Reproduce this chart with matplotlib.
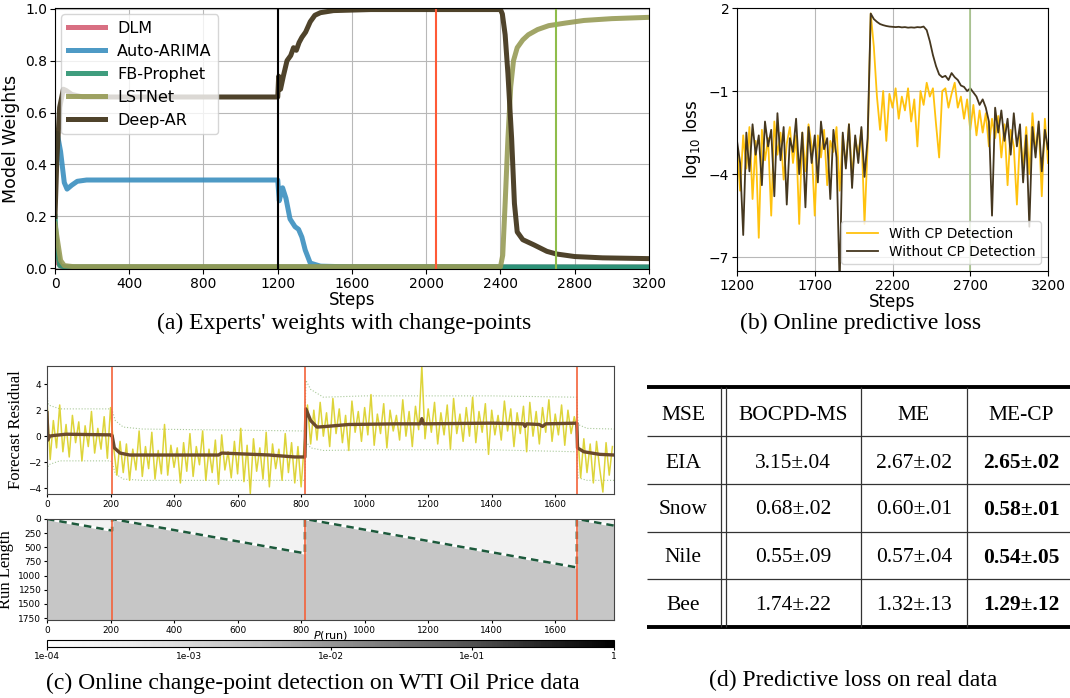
import numpy as np
import matplotlib
matplotlib.use('Agg')
import matplotlib.pyplot as plt
from matplotlib.colors import LogNorm
from matplotlib.cm import ScalarMappable

# ---------------- (a) experts' weights ----------------
dlm_x = [0, 15, 40, 3200]
dlm_w = [0.1, 0.02, 0.004, 0.004]
arima_x = [0, 12, 30, 50, 65, 90, 120, 170, 1200, 1208, 1226, 1244, 1266, 1293, 1312,
           1330, 1348, 1375, 1430, 1600, 3200]
arima_w = [0.4, 0.52, 0.45, 0.33, 0.305, 0.32, 0.335, 0.34, 0.34, 0.26, 0.31, 0.27, 0.19, 0.16, 0.15,
           0.12, 0.07, 0.02, 0.008, 0.005, 0.003]
prophet_x = [0, 10, 25, 50, 3200]
prophet_w = [0.2, 0.08, 0.01, 0.005, 0.005]
lstnet_x = [0, 15, 30, 50, 100, 2400, 2412, 2425, 2440, 2455, 2470, 2490, 2520, 2550, 2600,
            2660, 2750, 2850, 3000, 3200]
lstnet_w = [0.17, 0.1, 0.03, 0.01, 0.006, 0.006, 0.05, 0.25, 0.5, 0.7, 0.8, 0.85, 0.88, 0.9, 0.92,
            0.935, 0.945, 0.955, 0.962, 0.967]
deepar_x = [0, 10, 25, 45, 60, 90, 150, 1200, 1205, 1215, 1230, 1250, 1270, 1285, 1300, 1315,
            1330, 1350, 1375, 1400, 1430, 1500, 1700, 2400, 2410, 2425, 2440, 2460, 2475, 2490,
            2520, 2580, 2650, 2700, 2800, 2950, 3200]
deepar_w = [0.2, 0.42, 0.62, 0.69, 0.685, 0.67, 0.66, 0.66, 0.74, 0.69, 0.74, 0.80, 0.82, 0.85, 0.84, 0.87,
            0.89, 0.91, 0.95, 0.975, 0.985, 0.993, 0.997, 0.997, 0.98, 0.9, 0.75, 0.5, 0.25, 0.14,
            0.11, 0.09, 0.065, 0.055, 0.045, 0.04, 0.037]
a_cps = [1200, 2050, 2700]
a_cp_colors = ['black', '#ff5a36', '#8fbd4b']

# ---------------- (b) online predictive loss ----------------
b_steps = np.arange(1200, 3201, 20)
loss_with_cp = [
    -3.0, -4.6, -2.6, -3.8, -2.3, -4.9, -2.8, -6.3, -2.4, -3.5,
    -2.7, -5.5, -2.1, -3.3, -2.5, -4.2, -2.9, -2.3, -3.6, -2.6,
    -5.8, -2.5, -3.9, -2.2, -3.0, -5.5, -2.6, -3.4, -2.4, -4.4,
    -2.8, -3.2, -2.3, -4.6, -2.6, -3.7, -2.2, -4.1, -2.7, -3.3,
    -2.4, -5.8, -3.0,
    1.8, 0.6, -1.2, -2.4, -1.0, -2.8, -1.1, -1.6, -0.9, -2.0,
    -1.2, -1.7, -0.9, -2.1, -1.3, -3.0, -1.0, -1.5, -0.7, -1.2,
    -0.9, -2.2, -3.4, -1.0, -0.9, -1.6, -1.1, -0.7, -1.6, -1.2,
    -2.0, -1.3, -2.4, -1.5, -2.6, -1.7, -2.5, -1.8, -3.0, -2.0,
    -2.7, -1.9, -3.4, -2.2, -4.4, -2.4, -3.0, -5.1, -2.6, -3.7,
    -2.3, -4.0, -1.8, -3.2, -2.2, -4.8, -2.0, -3.6]
loss_without_cp = [
    -2.8, -3.6, -6.2, -2.5, -3.9, -2.2, -3.3, -2.6, -4.4, -2.1,
    -3.0, -2.4, -4.8, -1.8, -3.5, -2.3, -5.1, -2.7, -3.2, -2.0,
    -4.0, -2.5, -5.2, -2.3, -3.6, -2.6, -4.3, -2.1, -3.1, -2.7,
    -4.9, -2.4, -3.4, -8.0, -2.5, -3.8, -2.2, -4.5, -2.6, -3.6,
    -2.3, -4.1, -2.7,
    1.8, 1.6, 1.5, 1.42, 1.38, 1.35, 1.33, 1.32, 1.31, 1.32,
    1.3, 1.31, 1.29, 1.3, 1.29, 1.31, 1.3, 1.33, 1.2, 0.8,
    0.3, -0.1, -0.4, -0.5, -0.45, -0.6, -0.35, -0.5, -0.6, -0.8,
    -0.85, -1.0, -0.9, -1.05, -1.2, -1.5, -1.3, -1.6, -2.1, -5.5,
    -1.6, -2.5, -1.7, -2.8, -2.0, -3.3, -1.8, -3.0, -2.2, -4.3,
    -2.6, -5.9, -2.3, -3.4, -2.1, -3.9, -2.4, -3.1]
b_cp = 2700

# ---------------- (c) WTI oil change-point detection ----------------
res_steps = np.arange(0, 1781, 10)
residual = [
    2.8, -1.8, 1.2, -0.9, 2.4, -1.2, 0.9, -1.6, 1.6, -0.5, 1.1, -1.9, 0.8, -0.8, 1.9, -1.3,
    0.6, -1.0, 1.5, -1.7, 2.2,
    -0.9, -3.0, -0.4, -2.8, -0.6, -3.4, -1.0, -2.6, 0.4, -3.1,
    -0.8, -2.5, 0.3, -3.3, -1.1, -2.9, 0.9, -3.0, -0.7, -2.4,
    -0.9, -3.6, -0.5, -2.7, 0.2, -3.1, -0.8, -2.2, 0.4, -3.4,
    -1.0, -2.8, -0.3, -3.7, 0.1, -2.6, -1.2, -3.2, -0.4, -2.9,
    0.6, -3.5, -0.7, -4.4, -0.2, -2.7, -0.9, -3.3, 0.3, -3.9,
    -0.6, -2.5, -1.0, -3.4, 0.2, -2.8, -0.5, -3.6, -0.8, -3.9,
    -0.6,
    2.4, -0.6, 2.0, -0.3, 2.6, 0.0, 1.8, -0.8, 2.9, 0.2,
    2.1, -0.5, 1.6, -1.1, 2.7, 0.3, 1.9, -0.4, 2.2, 0.1,
    3.2, -0.7, 1.7, 0.2, 2.5, -0.9, 2.0, 0.4, 1.6, -0.3,
    2.8, 0.0, 1.9, -0.8, 2.3, 0.5, 5.4, -0.2, 2.1, 0.3,
    2.6, -0.6, 1.8, 0.1, 2.4, -1.0, 2.9, 0.2, 1.7, -0.4,
    2.2, 0.0, 3.0, -0.5, 1.9, 0.3, 2.5, -1.4, 2.0, 0.1,
    1.6, -0.3, 2.7, 0.4, 2.1, -0.8, 1.8, 0.2, 2.3, -1.2,
    2.6, 0.0, 1.9, -0.6, 2.2, 0.3, 2.8, -0.4, 1.7, 0.1,
    2.4, -0.7, 2.0, 0.2, 1.5,
    0.4, -3.2, -0.2, -2.8, -0.6, -3.6, -0.4, -2.5, -4.3, -0.5, -3.0, -0.8]
mean_x = [0, 3, 8, 20, 60, 200, 205, 212, 230, 260, 400, 540, 550, 700, 780, 812, 815, 830,
          850, 880, 950, 1100, 1175, 1180, 1185, 1400, 1500, 1505, 1510, 1550, 1560, 1570,
          1668, 1670, 1690, 1740, 1785]
mean_v = [1.8, -0.3, 0.0, 0.05, 0.15, 0.1, 0.05, -0.9, -1.3, -1.45, -1.45, -1.45, -1.3, -1.45,
          -1.6, -1.6, 2.1, 1.2, 0.7, 0.75, 0.9, 0.95, 0.95, 1.35, 0.95, 1.0, 0.95, 0.75, 0.95,
          0.9, 0.75, 0.95, 1.0, -0.9, -1.2, -1.4, -1.45]
band_x = [0, 5, 40, 200, 205, 215, 240, 300, 812, 815, 830, 870, 1000, 1400, 1668, 1672, 1700, 1785]
band_hi = [3.2, 2.4, 2.1, 2.1, 2.0, 1.2, 0.7, 0.55, 0.4, 4.3, 3.6, 3.0, 3.1, 3.1, 3.0, 0.9, 0.6, 0.55]
band_lo = [-2.8, -2.2, -1.9, -1.9, -2.0, -2.9, -3.3, -3.4, -3.4, -0.4, -0.9, -1.1, -1.05, -1.05,
           -1.2, -3.2, -3.4, -3.4]
c_cps = [205, 812, 1668]
rl_t = [0, 205, 205, 812, 812, 1668, 1668, 1785]
rl_map = [0, 205, 0, 607, 0, 856, 0, 117]

# ---------------- (d) table ----------------
tab_header = ['MSE', 'BOCPD-MS', 'ME', 'ME-CP']
tab_rows = ['EIA', 'Snow', 'Nile', 'Bee']
tab_bocpd = ['3.15±.04', '0.68±.02', '0.55±.09', '1.74±.22']
tab_me = ['2.67±.02', '0.60±.01', '0.57±.04', '1.32±.13']
tab_mecp = ['2.65±.02', '0.58±.01', '0.54±.05', '1.29±.12']

W, H = 1070, 698
SERIF = 'Liberation Serif'


def box(x0, y0, x1, y1):
    return [x0 / W, 1 - y1 / H, (x1 - x0) / W, (y1 - y0) / H]


fig = plt.figure(figsize=(W / 100, H / 100), dpi=100)

# --- (a) ---
ax = fig.add_axes(box(55, 8, 649, 269))
ax.plot(dlm_x, dlm_w, color='#d45f74', lw=3.6, alpha=0.9, label='DLM')
ax.plot(arima_x, arima_w, color='#3b8fbf', lw=3.6, alpha=0.9, label='Auto-ARIMA')
ax.plot(prophet_x, prophet_w, color='#2a9270', lw=3.6, alpha=0.9, label='FB-Prophet')
ax.plot(lstnet_x, lstnet_w, color='#979b56', lw=3.6, alpha=0.9, label='LSTNet')
ax.plot(deepar_x, deepar_w, color='#45391f', lw=3.6, alpha=0.95, label='Deep-AR')
for cp, c in zip(a_cps, a_cp_colors):
    ax.axvline(cp, color=c, lw=1.5)
ax.set_xlim(0, 3200)
ax.set_ylim(-0.003, 1.003)
ax.set_xticks(np.arange(0, 3201, 400))
ax.set_yticks([0, 0.2, 0.4, 0.6, 0.8, 1.0])
ax.grid(True, color='#b8b8b8', lw=0.8)
ax.tick_params(labelsize=10, pad=2)
ax.set_xlabel('Steps', fontsize=12, labelpad=0)
ax.set_ylabel('Model Weights', fontsize=12.5, labelpad=4)
ax.legend(loc='upper left', fontsize=11.5, handlelength=2.3, borderaxespad=0.4,
          labelspacing=0.5)

# --- (b) ---
bx = fig.add_axes(box(737, 8, 1048, 271))
bx.plot(b_steps, loss_with_cp, color='#ffc20e', lw=1.3, label='With CP Detection')
bx.plot(b_steps, loss_without_cp, color='#45371f', lw=1.3, label='Without CP Detection')
bx.axvline(b_cp, color='#a6c48a', lw=1.2)
bx.set_xlim(1200, 3200)
bx.set_ylim(-7.5, 2.0)
bx.set_xticks([1200, 1700, 2200, 2700, 3200])
bx.set_yticks([2, -1, -4, -7])
bx.grid(True, color='#b8b8b8', lw=0.8)
bx.tick_params(labelsize=10, pad=2)
bx.set_xlabel('Steps', fontsize=12, labelpad=0)
bx.set_ylabel('log$_{10}$ loss', fontsize=12, labelpad=4)
bx.legend(loc='lower right', fontsize=9.8, handlelength=2.3, labelspacing=0.3)

# --- (c) residual ---
cx = fig.add_axes(box(47, 366, 614, 494))
cx.plot(band_x, band_hi, color='#a9c99a', lw=0.8, ls=':')
cx.plot(band_x, band_lo, color='#a9c99a', lw=0.8, ls=':')
cx.plot(res_steps, residual, color='#dcd22f', lw=1.1, alpha=0.95)
cx.plot(mean_x, mean_v, color='#6b4a2b', lw=2.4)
for cp in c_cps:
    cx.axvline(cp, color='#f4623a', lw=1.2)
cx.set_xlim(0, 1785)
cx.set_ylim(-4.45, 5.4)
cx.set_xticks(np.arange(0, 1601, 200))
cx.set_yticks([-4, -2, 0, 2, 4])
cx.tick_params(labelsize=6.5, length=2.5, pad=1.5)
cx.set_ylabel('Forecast Residual', fontsize=12, family=SERIF)
cx.yaxis.set_label_coords(-0.04, 0.5)
for s in cx.spines.values():
    s.set_color('#444444')

# --- (c) run-length posterior ---
hx = fig.add_axes(box(47, 519, 614, 620))
hx.set_facecolor('#c6c6c6')
hx.fill_between(rl_t, 0, rl_map, color='#f2f2f2', lw=0)
hx.plot(rl_t, rl_map, color='white', lw=1.8)
hx.plot(rl_t, rl_map, color='#1d5a3c', lw=1.8, ls=(0, (3, 2)))
for cp in c_cps:
    hx.axvline(cp, color='#f4623a', lw=1.2)
hx.set_xlim(0, 1785)
hx.set_ylim(1785, 0)
hx.set_xticks(np.arange(0, 1601, 200))
hx.set_yticks(np.arange(0, 1751, 250))
hx.tick_params(labelsize=6.5, length=2.5, pad=1.5)
hx.set_ylabel('Run Length', fontsize=12, family=SERIF)
hx.yaxis.set_label_coords(-0.058, 0.5)
for s in hx.spines.values():
    s.set_color('#444444')

cax = fig.add_axes(box(47, 640, 614, 647))
sm = ScalarMappable(norm=LogNorm(1e-4, 1), cmap='Greys')
cb = fig.colorbar(sm, cax=cax, orientation='horizontal')
cb.set_ticks([1e-4, 1e-3, 1e-2, 1e-1, 1])
cb.set_ticklabels(['1e-04', '1e-03', '1e-02', '1e-01', '1'])
cb.ax.minorticks_off()
cb.ax.tick_params(labelsize=6.5, length=2, pad=1.5)
cb.set_label('$P$(run)', fontsize=8, labelpad=1)
cb.ax.xaxis.set_label_position('top')

# --- (d) table and captions on a full-figure overlay ---
ov = fig.add_axes([0, 0, 1, 1], zorder=-1)
ov.set_xlim(0, W)
ov.set_ylim(H, 0)
ov.axis('off')

row_y = [415, 463, 510, 558, 605]
col_x = [683, 793, 914, 1021]
ov.hlines([387, 627], 647, 1070, color='black', lw=2.8)
ov.hlines([436, 484, 532, 579], 647, 1070, color='#333333', lw=0.9)
ov.vlines([721, 726, 861, 967], 387, 627, color='#333333', lw=0.9)
for x, t in zip(col_x, tab_header):
    ov.text(x, row_y[0], t, ha='center', va='center', fontsize=15.5, family=SERIF)
for i, name in enumerate(tab_rows):
    y = row_y[i + 1]
    ov.text(col_x[0], y, name, ha='center', va='center', fontsize=15.5, family=SERIF)
    ov.text(col_x[1], y, tab_bocpd[i], ha='center', va='center', fontsize=15.5, family=SERIF)
    ov.text(col_x[2], y, tab_me[i], ha='center', va='center', fontsize=15.5, family=SERIF)
    ov.text(col_x[3], y, tab_mecp[i], ha='center', va='center', fontsize=15.5, family=SERIF,
            weight='bold')

captions = [(344, 323, "(a) Experts' weights with change-points"),
            (861, 323, '(b) Online predictive loss'),
            (313, 683, '(c) Online change-point detection on WTI Oil Price data'),
            (853, 680, '(d) Predictive loss on real data')]
for x, y, t in captions:
    ov.text(x, y, t, ha='center', va='center', fontsize=17, family=SERIF)

fig.savefig('out.png', dpi=100)
